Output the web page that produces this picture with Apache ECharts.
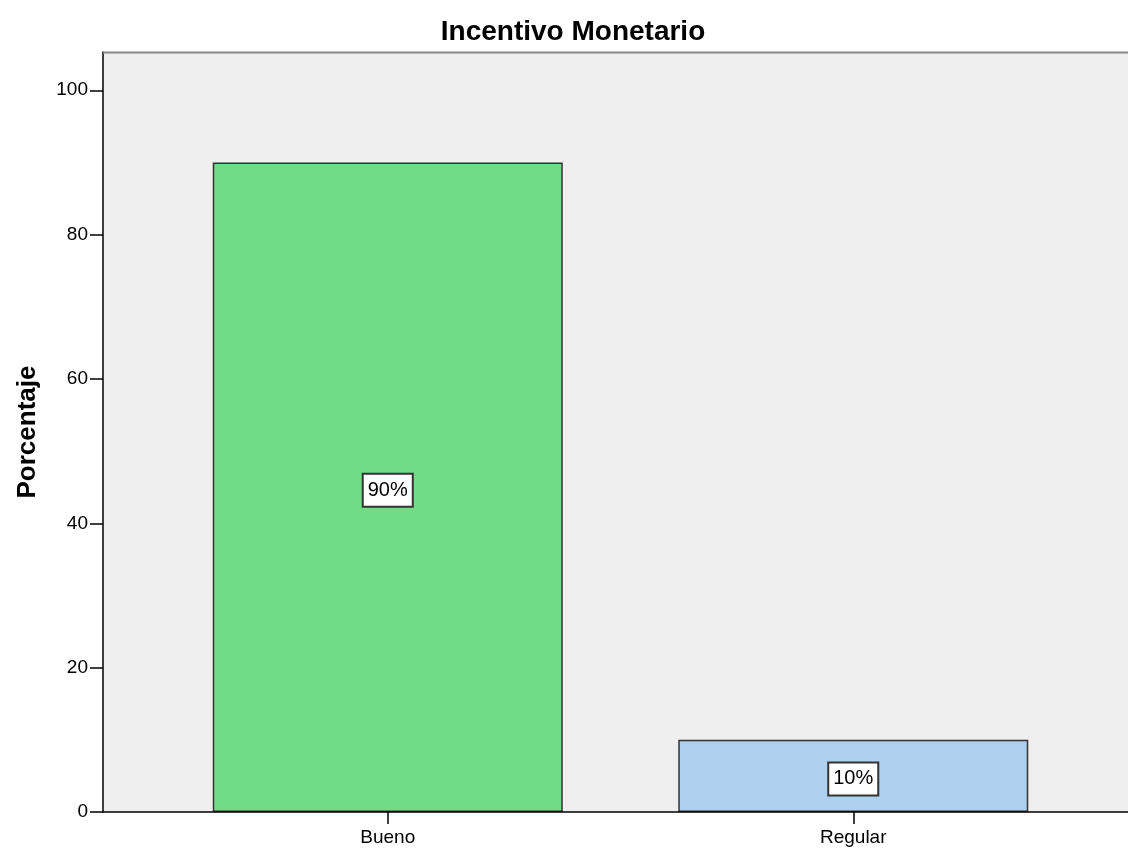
<!DOCTYPE html>
<html>
<head>
<meta charset="utf-8">
<script src="https://cdn.jsdelivr.net/npm/echarts@6/dist/echarts.min.js"></script>
<style>
    html, body { margin: 0; padding: 0; background: #fff; }
    #chart { width: 1128px; height: 848px; }
</style>
</head>
<body>
<div id="chart"></div>
<script>
    var categories = ['Bueno', 'Regular'];
    var percentages = [90, 10];
    var barColors = ['#71dc86', '#acd0ee'];

    var chart = echarts.init(document.getElementById('chart'));

    chart.setOption({
        animation: false,
        textStyle: {fontFamily: '"Liberation Sans", Arial, sans-serif'},
        title: {
            text: 'Incentivo Monetario',
            left: 568,
            textAlign: 'center',
            top: 13,
            textStyle: {fontSize: 28, fontWeight: 'bold', color: '#000'}
        },
        // plot frame, it reaches past the category band like the original
        graphic: [
            {
                type: 'rect', z: -10, silent: true,
                shape: {x: 103, y: 52, width: 1030, height: 760},
                style: {fill: '#efefef'}
            },
            {
                type: 'line', z: 10, silent: true,
                shape: {x1: 103, y1: 52.5, x2: 1128, y2: 52.5},
                style: {stroke: '#888', lineWidth: 2}
            },
            {
                type: 'line', z: 10, silent: true,
                shape: {x1: 103, y1: 812, x2: 1128, y2: 812},
                style: {stroke: '#000', lineWidth: 1.5}
            }
        ],
        grid: {left: 155, right: 42, top: 52, bottom: 36, containLabel: false},
        xAxis: {
            type: 'category',
            data: categories,
            axisLine: {show: false},
            axisTick: {show: true, alignWithLabel: true, length: 12, lineStyle: {color: '#000', width: 1.5}},
            axisLabel: {color: '#000', fontSize: 19, margin: 16}
        },
        yAxis: {
            type: 'value',
            min: 0,
            max: 105.3,
            interval: 20,
            offset: 52,
            name: 'Porcentaje',
            nameLocation: 'middle',
            nameGap: 62,
            nameTextStyle: {fontSize: 26, fontWeight: 'bold', color: '#000'},
            axisLine: {show: true, lineStyle: {color: '#000', width: 1.5}},
            axisTick: {show: true, inside: false, length: 13, lineStyle: {color: '#000', width: 1.5}},
            axisLabel: {color: '#000', fontSize: 19, margin: 15,
                showMaxLabel: false},
            splitLine: {show: false}
        },
        series: [{
            type: 'bar',
            barWidth: 350,
            data: percentages.map(function (v, i) {
                return {value: v, itemStyle: {color: barColors[i]}};
            }),
            itemStyle: {borderColor: '#333', borderWidth: 1.5},
            label: {
                show: true,
                position: 'inside',
                offset: [0, 3],
                formatter: '{c}%',
                color: '#000',
                fontSize: 20,
                backgroundColor: '#fff',
                borderColor: '#333',
                borderWidth: 2,
                padding: [6, 4, 5, 4]
            }
        }]
    });
</script>
</body>
</html>
